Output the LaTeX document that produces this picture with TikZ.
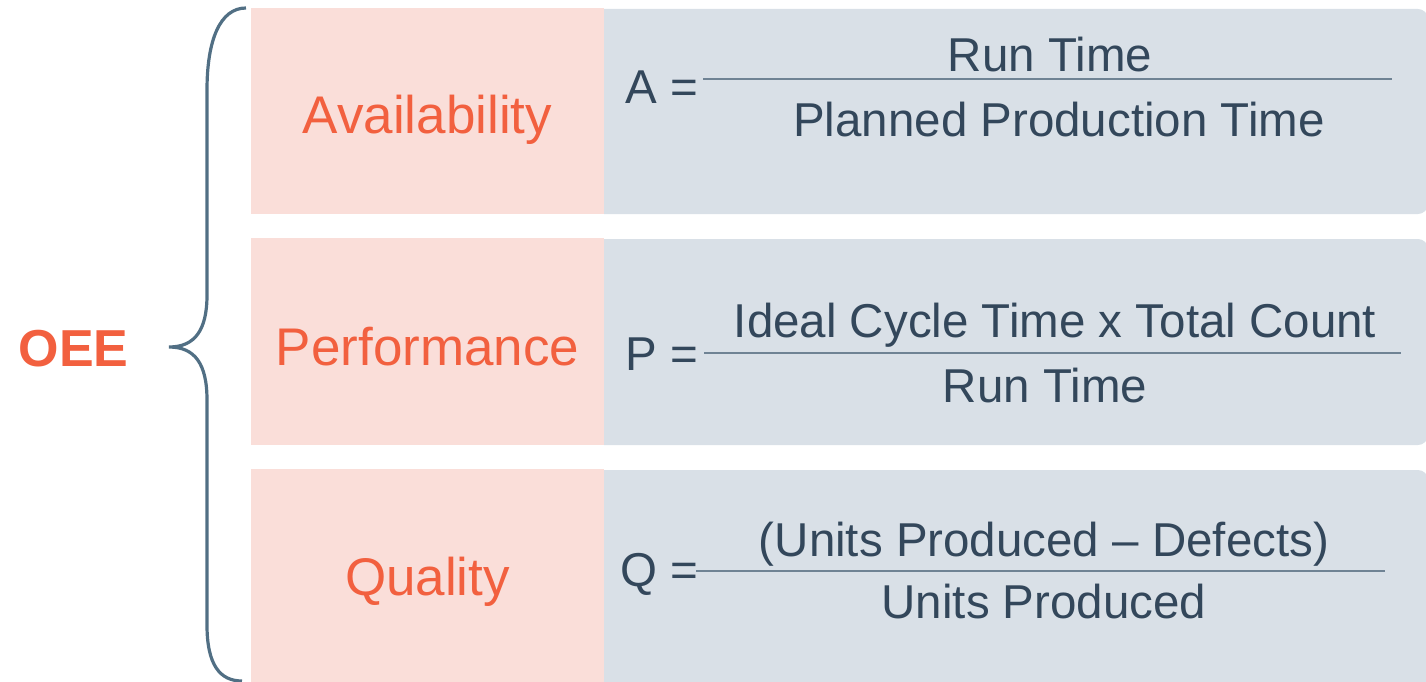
\documentclass[tikz,border=0pt]{standalone}
\usepackage{fontspec}
\setmainfont{Liberation Sans}
\usepackage{xcolor}

\definecolor{oeeorange}{HTML}{F2603F}
\definecolor{termpink}{HTML}{FADED9}
\definecolor{formblue}{HTML}{D9E0E7}
\definecolor{inkslate}{HTML}{33475B}
\definecolor{braceslate}{HTML}{516F84}
\definecolor{ruleslate}{HTML}{6F8394}

\newcommand{\termlab}[1]{\fontsize{53}{62}\selectfont #1}
\newcommand{\formlab}[1]{\fontsize{47.5}{57}\selectfont #1}

\begin{document}
\begin{tikzpicture}[ x = 1pt, y = -1pt,
                     termbox/.style={fill=termpink,inner sep=0pt},
                     formbox/.style={fill=formblue,inner sep=0pt,rounded corners=10pt},
                     termtxt/.style={anchor=base,inner sep=0pt,text=oeeorange},
                     formtxt/.style={anchor=base,inner sep=0pt,text=inkslate},
                     lhs/.style={anchor=base west,inner sep=0pt,text=inkslate},
                     divline/.style={draw=ruleslate,line width=2pt},
                   ]
 \useasboundingbox (0,0) rectangle (1426,682);

 % formula panels first, the term boxes hide their left corners
 \draw (1011,111.5) node[formbox,minimum width=834pt,minimum height=205pt] (fA) {};
 \draw (1011,342)   node[formbox,minimum width=834pt,minimum height=206pt] (fP) {};
 \draw (1011,582)   node[formbox,minimum width=834pt,minimum height=224pt] (fQ) {};

 \draw (427.5,111)   node[termbox,minimum width=353pt,minimum height=206pt] (tA) {};
 \draw (427.5,341.5) node[termbox,minimum width=353pt,minimum height=207pt] (tP) {};
 \draw (427.5,580.5) node[termbox,minimum width=353pt,minimum height=223pt] (tQ) {};

 % term names
 \draw (427.5,134) node[termtxt] (avail) {\termlab{Availability}};
 \draw (427.5,365) node[termtxt] (perf)  {\termlab{Performance}};
 \draw (427.5,595) node[termtxt] (qual)  {\termlab{Quality}};

 % A = run / planned
 \draw (625,104)  node[lhs]     (eqA)   {\formlab{A =}};
 \draw (1050,72)  node[formtxt] (numA)  {\formlab{Run Time}};
 \draw (1059,136) node[formtxt] (denA)  {\formlab{Planned Production Time}};
 \draw[divline] (703,79) -- (1392,79);

 % P = ideal x count / run
 \draw (625,370)  node[lhs]     (eqP)   {\formlab{P =}};
 \draw (1055,337) node[formtxt] (numP)  {\formlab{Ideal Cycle Time x Total Count}};
 \draw (1045,402) node[formtxt] (denP)  {\formlab{Run Time}};
 \draw[divline] (704,353) -- (1401,353);

 % Q = good / produced
 \draw (620,586)  node[lhs]     (eqQ)   {\formlab{Q =}};
 \draw (1044,556) node[formtxt] (numQ)  {\formlab{(Units Produced – Defects)}};
 \draw (1044,618) node[formtxt] (denQ)  {\formlab{Units Produced}};
 \draw[divline] (696,571) -- (1385,571);

 % OEE and its brace
 \draw (73.5,366) node[anchor=base,inner sep=0pt,text=oeeorange] (oee)
              {\fontsize{52}{62}\selectfont\bfseries OEE};

 \draw[draw=braceslate,line width=3.2pt]
      (246,8) .. controls (220,8) and (207,40) .. (207,90)
      -- (207,295) .. controls (207,330) and (195,347) .. (169,347)
      .. controls (195,347) and (207,364) .. (207,400)
      -- (207,625) .. controls (207,665) and (220,681) .. (242,681);

\end{tikzpicture}
\end{document}
